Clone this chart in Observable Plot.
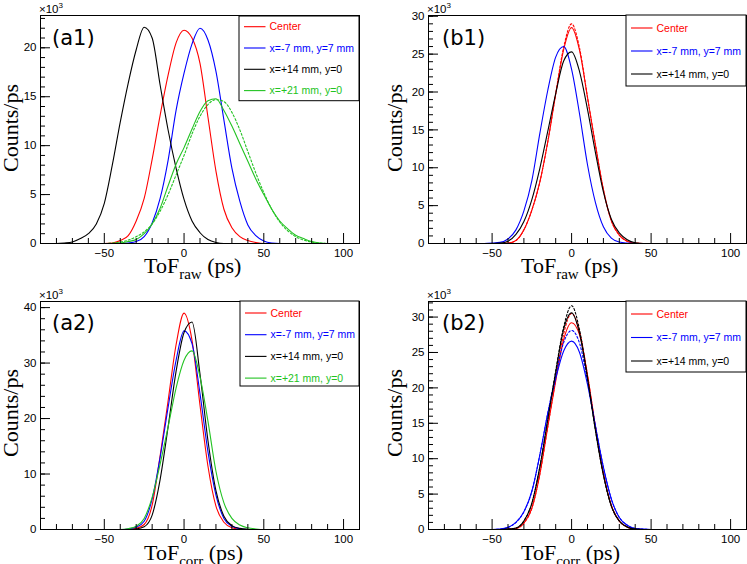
<!DOCTYPE html>
<html><head><meta charset="utf-8">
<script src="https://cdn.jsdelivr.net/npm/d3@7"></script>
<script src="https://cdn.jsdelivr.net/npm/@observablehq/plot@0.6"></script>
<style>
body{margin:0;background:#fff}
#wrap{position:relative;width:747px;height:564px;overflow:hidden;background:#fff}
#wrap svg{position:absolute;overflow:visible}
</style></head><body><div id="wrap"></div>
<script>
// ToF bin centres (ps)
const tof = [-90,-85,-80,-75,-70,-65,-60,-55,-50,-45,-40,-35,-30,-25,-20,-15,-10,-5,0,5,10,15,20,25,30,35,40,45,50,55,60,65,70,75,80,85,90,95,100,105,110];

const labels = ["Center","x=-7 mm, y=7 mm","x=+14 mm, y=0","x=+21 mm, y=0"];
const colors = ["#ff0000","#0000ff","#000000","#22c322"];

// (a1) ToF raw, counts x10^3 per ps
const a1Red   = [0,0,0,0,0,0,0,0,0,0.05, 0.3,0.8,2.3,4.6,8.6,13.1,17.2,20.5,21.8,21.0, 18.4,12.9,7.4,3.5,1.6,0.7,0.3,0.1,0,0, 0,0,0,0,0,0,0,0,0,0,0];
const a1Blue  = [0,0,0,0,0,0,0,0,0,0, 0,0.05,0.2,0.7,2.1,4.6,8.5,13.6,17.4,20.4, 22.0,20.8,17.6,12.6,7.7,4.3,1.9,0.8,0.25,0.05, 0,0,0,0,0,0,0,0,0,0,0];
const a1Black = [0,0,0,0.05,0.15,0.5,1.0,2.0,4.1,8.0, 12.4,16.4,19.8,22.1,21.0,16.2,11.6,7.7,4.5,2.3, 1.1,0.4,0.1,0,0,0,0,0,0,0, 0,0,0,0,0,0,0,0,0,0,0];
const a1Green = [0,0,0,0,0,0,0,0,0,0, 0.05,0.2,0.4,1.0,2.0,3.6,5.9,8.1,9.8,11.7, 13.5,14.6,14.8,13.6,12.0,10.2,8.4,6.6,5.0,3.5, 2.3,1.5,0.85,0.5,0.2,0.05,0,0,0,0,0];
const a1GreenFit = [0,0,0,0,0,0,0,0,0,0.05, 0.15,0.35,0.7,1.2,2.0,3.3,5.0,7.0,9.0,11.2, 13.0,14.2,14.7,14.5,13.4,11.6,9.4,7.2,5.2,3.5, 2.2,1.3,0.7,0.35,0.15,0.05,0,0,0,0,0];

// (b1)
const b1Red    = [0,0,0,0,0,0,0,0,0,0, 0.05,0.4,1.8,4.4,8.1,13.4,19.7,25.6,28.5,25.5, 19.3,13.0,7.1,3.0,1.1,0.3,0.05,0,0,0, 0,0,0,0,0,0,0,0,0,0,0];
const b1RedFit = [0,0,0,0,0,0,0,0,0,0, 0.05,0.4,1.8,4.4,8.1,13.4,19.8,25.9,29.0,25.8, 19.3,13.0,7.1,3.0,1.1,0.3,0.05,0,0,0, 0,0,0,0,0,0,0,0,0,0,0];
const b1Blue   = [0,0,0,0,0,0,0,0,0.05,0.15, 0.6,1.8,4.3,8.3,14.5,20.2,24.6,26.0,23.0,17.1, 10.4,5.4,2.2,0.7,0.2,0.05,0,0,0,0, 0,0,0,0,0,0,0,0,0,0,0];
const b1Black  = [0,0,0,0,0,0,0,0,0,0.05, 0.3,1.2,2.9,5.8,9.9,14.8,19.8,24.1,25.3,22.7, 17.7,12.0,6.8,3.2,1.4,0.5,0.1,0,0,0, 0,0,0,0,0,0,0,0,0,0,0];

// (a2) ToF corrected
const a2Red   = [0,0,0,0,0,0,0,0,0,0, 0,0.05,0.2,0.9,4.4,13.3,23.2,33.3,39.0,34.1, 22.4,11.4,4.2,1.3,0.3,0.05,0,0,0,0, 0,0,0,0,0,0,0,0,0,0,0];
const a2Blue  = [0,0,0,0,0,0,0,0,0,0, 0,0.1,0.4,1.5,5.5,13.0,22.0,30.5,35.8,33.5, 24.5,14.0,6.2,2.0,0.6,0.15,0,0,0,0, 0,0,0,0,0,0,0,0,0,0,0];
const a2Black = [0,0,0,0,0,0,0,0,0,0, 0,0,0.1,0.5,2.6,9.0,18.5,28.5,35.5,37.4, 28.0,16.0,7.0,2.4,0.7,0.2,0.05,0,0,0, 0,0,0,0,0,0,0,0,0,0,0];
const a2Green = [0,0,0,0,0,0,0,0,0,0, 0,0.15,0.6,2.0,5.8,11.8,18.5,25.5,30.5,32.2, 27.5,19.5,10.5,4.8,2.0,0.8,0.3,0.1,0,0, 0,0,0,0,0,0,0,0,0,0,0];

// (b2)
const b2Red      = [0,0,0,0,0,0,0,0,0,0, 0.05,0.15,0.9,3.0,7.8,14.5,21.0,26.8,29.2,27.5, 21.8,14.5,7.9,3.4,1.2,0.35,0.05,0,0,0, 0,0,0,0,0,0,0,0,0,0,0];
const b2RedFit   = [0,0,0,0,0,0,0,0,0,0, 0.05,0.15,0.9,3.0,7.8,14.5,21.2,27.6,30.5,28.0, 21.8,14.5,7.9,3.4,1.2,0.35,0.05,0,0,0, 0,0,0,0,0,0,0,0,0,0,0];
const b2Blue     = [0,0,0,0,0,0,0,0,0,0.05, 0.3,1.0,2.5,5.4,10.5,16.4,21.3,25.2,26.6,25.0, 20.5,14.6,8.8,4.3,1.7,0.6,0.15,0.05,0,0, 0,0,0,0,0,0,0,0,0,0,0];
const b2BlueFit  = [0,0,0,0,0,0,0,0,0,0.05, 0.3,1.0,2.5,5.4,10.5,16.4,21.8,26.4,28.1,26.3, 21.0,14.6,8.8,4.3,1.7,0.6,0.15,0.05,0,0, 0,0,0,0,0,0,0,0,0,0,0];
const b2Black    = [0,0,0,0,0,0,0,0,0,0, 0.05,0.2,1.2,3.7,8.8,15.5,22.2,28.3,30.6,27.7, 21.4,14.0,7.7,3.3,1.2,0.35,0.05,0,0,0, 0,0,0,0,0,0,0,0,0,0,0];
const b2BlackFit = [0,0,0,0,0,0,0,0,0,0, 0.05,0.2,1.2,3.7,8.8,15.5,22.4,28.6,31.6,28.2, 21.4,14.0,7.7,3.3,1.2,0.35,0.05,0,0,0, 0,0,0,0,0,0,0,0,0,0,0];

const xMajor = [-50,0,50,100];
const xMinor = [-90,-80,-70,-60,-40,-30,-20,-10,10,20,30,40,60,70,80,90,110];

const panels = [
  {tag:"(a1)", sub:"raw", left:0, top:0, width:374, ml:40, mr:15, mt:15, mb:39, ymax:23.3,
   yMajor:[0,5,10,15,20], yMinor:d3.range(0,24,1),
   series:[{k:0,h:a1Red},{k:1,h:a1Blue},{k:2,h:a1Black},{k:3,h:a1Green,f:a1GreenFit}],
   leg:{x0:239,y0:16,x1:359,y1:100.7,ry:26.7,rs:21.3}, tagX:52, tagY:44.5, xlX:144, xlY:273, ylX:18, ylY:128},
  {tag:"(b1)", sub:"raw", left:374, top:0, width:373, ml:54, mr:1, mt:15, mb:39, ymax:30.1,
   yMajor:[0,5,10,15,20,25,30], yMinor:d3.range(0,31,1),
   series:[{k:0,h:b1Red,f:b1RedFit},{k:1,h:b1Blue},{k:2,h:b1Black}],
   leg:{x0:252,y0:15,x1:372,y1:86,ry:28,rs:23}, tagX:68, tagY:44.5, xlX:147, xlY:273, ylX:28, ylY:128},
  {tag:"(a2)", sub:"corr", left:0, top:282, width:374, ml:40, mr:15, mt:19, mb:35, ymax:41.1,
   yMajor:[0,10,20,30,40], yMinor:d3.range(0,42,2),
   series:[{k:0,h:a2Red},{k:1,h:a2Blue},{k:2,h:a2Black},{k:3,h:a2Green}],
   leg:{x0:240,y0:19,x1:359,y1:104,ry:31,rs:21.7}, tagX:52, tagY:47.5, xlX:144, xlY:278, ylX:18, ylY:131},
  {tag:"(b2)", sub:"corr", left:374, top:282, width:373, ml:54, mr:1, mt:19, mb:35, ymax:32.2,
   yMajor:[0,5,10,15,20,25,30], yMinor:d3.range(0,33,1),
   series:[{k:0,h:b2Red,f:b2RedFit},{k:1,h:b2Blue,f:b2BlueFit},{k:2,h:b2Black,f:b2BlackFit}],
   leg:{x0:252,y0:19,x1:372,y1:90,ry:32,rs:23.5}, tagX:68, tagY:47.5, xlX:147, xlY:278, ylX:28, ylY:131}
];

const rowsOf = (vals) => vals.map((c, i) => ({tof: tof[i], c}));
const wrap = document.getElementById("wrap");
const SANS = "'Liberation Sans', Arial, sans-serif";
const SERIF = "'Liberation Serif', 'Times New Roman', serif";

for (const p of panels) {
  const marks = [];
  for (const s of p.series) {
    if (s.f) marks.push(Plot.line(rowsOf(s.f), {x:"tof", y:"c", stroke: colors[s.k], strokeWidth: 1.1, strokeDasharray: "2,2", curve: "monotone-x"}));
    marks.push(Plot.line(rowsOf(s.h), {x:"tof", y:"c", stroke: colors[s.k], strokeWidth: 1.1, curve: "monotone-x"}));
  }
  marks.push(
    Plot.axisX(xMinor, {tickSize: -5, text: null, label: null}),
    Plot.axisX(xMajor, {tickSize: -10, tickPadding: 15.5, label: null}),
    Plot.axisY(p.yMinor, {tickSize: -5, text: null, label: null}),
    Plot.axisY(p.yMajor, {tickSize: -10, tickPadding: 14, label: null}),
    Plot.frame({stroke: "#000", strokeWidth: 1})
  );
  const svg = Plot.plot({
    width: p.width, height: 282,
    marginLeft: p.ml, marginRight: p.mr, marginTop: p.mt, marginBottom: p.mb,
    x: {domain: [-90, 110], label: null},
    y: {domain: [0, p.ymax], label: null},
    style: {fontFamily: SANS, fontSize: "11.5px", color: "#000", background: "transparent", overflow: "visible"},
    marks
  });
  svg.style.left = p.left + "px";
  svg.style.top = p.top + "px";
  wrap.appendChild(svg);

  const g = d3.select(svg).append("g").attr("text-anchor", "start");
  // x10^3 multiplier
  const m = g.append("text").attr("x", p.ml - 1).attr("y", p.mt - 2).attr("text-anchor", "start")
    .attr("font-family", SANS).attr("font-size", 11.5).attr("fill", "#000");
  m.append("tspan").text("\u00d710");
  m.append("tspan").attr("dy", -5).attr("font-size", 8).text("3");
  // panel tag
  g.append("text").attr("x", p.tagX).attr("y", p.tagY).attr("text-anchor", "start")
    .attr("font-family", "'DejaVu Sans', sans-serif").attr("font-size", 21).attr("fill", "#000").text(p.tag);
  // y label
  g.append("text").attr("transform", `translate(${p.ylX},${p.ylY}) rotate(-90)`)
    .attr("text-anchor", "middle").attr("font-family", SERIF)
    .attr("font-size", 22).attr("fill", "#000").text("Counts/ps");
  // x label with subscript
  const xl = g.append("text").attr("x", p.xlX).attr("y", p.xlY).attr("text-anchor", "start")
    .attr("font-family", SERIF).attr("font-size", 22).attr("fill", "#000");
  xl.append("tspan").text("ToF");
  xl.append("tspan").attr("font-size", 15).attr("dy", 6).text(p.sub);
  xl.append("tspan").attr("dy", -6).text(" (ps)");
  // legend
  const L = p.leg;
  g.append("rect").attr("x", L.x0).attr("y", L.y0).attr("width", L.x1 - L.x0).attr("height", L.y1 - L.y0)
    .attr("fill", "#fff").attr("stroke", "#000").attr("stroke-width", 1);
  p.series.forEach((s, i) => {
    const y = L.ry + i * L.rs;
    g.append("line").attr("x1", L.x0 + 5).attr("x2", L.x0 + 26.5).attr("y1", y).attr("y2", y)
      .attr("stroke", colors[s.k]).attr("stroke-width", 1.1);
    g.append("text").attr("x", L.x0 + 30.5).attr("y", y).attr("dy", "0.36em").attr("text-anchor", "start")
      .attr("font-family", SANS).attr("font-size", 10.5)
      .attr("fill", colors[s.k]).text(labels[s.k]);
  });
}
</script>
</body></html>
